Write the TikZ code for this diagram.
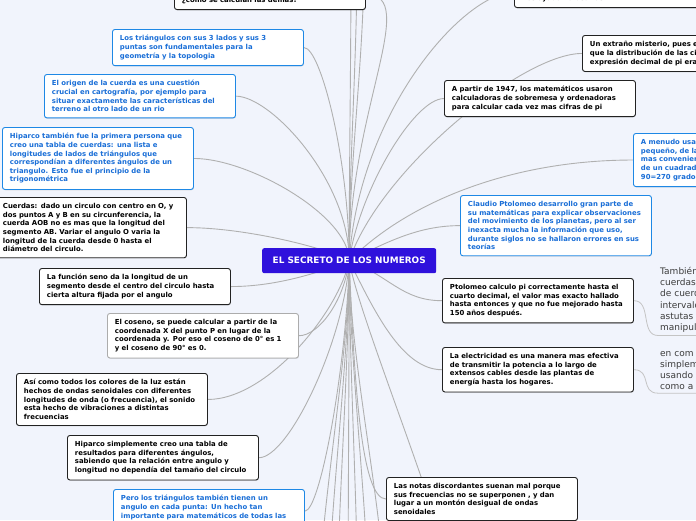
\documentclass[tikz,border=0pt]{standalone}
\usepackage{fontspec}
\setmainfont{DejaVu Sans}
\usepackage{tikz}
\usetikzlibrary{shadows}
\definecolor{bgcol}{RGB}{241,244,252}
\definecolor{hubcol}{RGB}{47,17,220}
\definecolor{blueline}{RGB}{30,136,229}
\definecolor{bluetext}{RGB}{25,110,215}
\definecolor{darkline}{RGB}{34,34,34}
\definecolor{greyline}{RGB}{172,172,172}
\definecolor{linkcol}{RGB}{176,176,176}
\definecolor{notecol}{RGB}{60,60,60}
\newcommand{\cardfont}{\fontsize{6.9}{8.6}\selectfont\bfseries}
\newcommand{\notefont}{\fontsize{9}{11.2}\selectfont}
\pgfdeclarelayer{back}
\pgfdeclarelayer{links}
\pgfsetlayers{back,links,main}

\begin{document}
\begin{tikzpicture}[x=1pt, y=-1pt,
  card/.style={draw=darkline, fill=white, text=black, line width=0.9pt,
    rounded corners=2.5pt, anchor=north west, text width=176pt, align=left,
    inner xsep=7.5pt, inner ysep=6pt, font=\cardfont,
    drop shadow={shadow xshift=0.4pt, shadow yshift=-0.8pt, opacity=0.25}},
  bluecard/.style={card, draw=blueline, text=bluetext},
  greycard/.style={card, draw=greyline},
  hubnode/.style={fill=hubcol, text=white, rounded corners=2pt, anchor=north west,
    minimum width=174pt, minimum height=25pt, inner sep=0pt,
    font=\fontsize{8.9}{10}\selectfont\bfseries},
  note/.style={anchor=north west, align=left, inner xsep=2pt, inner ysep=3pt,
    text=notecol, font=\notefont},
  link/.style={draw=linkcol, line width=0.9pt},
  uline/.style={draw=linkcol!75, line width=0.8pt}]
  \useasboundingbox (0,0) rectangle (696,520);
  \begin{pgfonlayer}{back}
    \fill[bgcol] (0,0) rectangle (696,520);
  \end{pgfonlayer}

  % Central topic
  \node[hubnode] (hub) at (262,248) {EL SECRETO DE LOS NUMEROS};

  % Left side
  \node[card, anchor=south west] (como) at (174,10) {\mbox{}\\ \mbox{}\\ ¿cómo se calculan las demás?};
  \node[bluecard] (tri) at (112,29) {Los triángulos con sus 3 lados y sus 3\\ puntas son fundamentales para la\\ geometría y la topologia};
  \node[bluecard] (orig) at (44,74) {El origen de la cuerda es una cuestión\\ crucial en cartografía, por ejemplo para\\ situar exactamente las características del\\ terreno al otro lado de un rio};
  \node[bluecard] (hipA) at (2,127) {Hiparco también fue la primera persona que\\ creo una tabla de cuerdas: una lista e\\ longitudes de lados de triángulos que\\ correspondían a diferentes ángulos de un\\ triangulo. Esto fue el principio de la\\ trigonométrica};
  \node[card] (cuer) at (-5,197) {Cuerdas: dado un circulo con centro en O, y\\ dos puntos A y B en su circunferencia, la\\ cuerda AOB no es mas que la longitud del\\ segmento AB. Variar el angulo O varia la\\ longitud de la cuerda desde 0 hasta el\\ diámetro del circulo.};
  \node[card] (seno) at (39,268) {La función seno da la longitud de un\\ segmento desde el centro del circulo hasta\\ cierta altura fijada por el angulo};
  \node[greycard] (cose) at (107,313) {El coseno, se puede calcular a partir de la\\ coordenada X del punto P en lugar de la\\ coordenada y. Por eso el coseno de 0° es 1\\ y el coseno de 90° es 0.};
  \node[card] (luz) at (16,373) {Así como todos los colores de la luz están\\ hechos de ondas senoidales con diferentes\\ longitudes de onda (o frecuencia), el sonido\\ esta hecho de vibraciones a distintas\\ frecuencias};
  \node[card] (hipB) at (67,435) {Hiparco simplemente creo una tabla de\\ resultados para diferentes ángulos,\\ sabiendo que la relación entre angulo y\\ longitud no dependía del tamaño del circulo};
  \node[bluecard] (pero) at (113,489) {Pero los triángulos también tienen un\\ angulo en cada punta: Un hecho tan\\ importante para matemáticos de todas las\\ \mbox{}};

  % Right side
  \node[card, anchor=south west] (ayuda) at (514,8) {\mbox{}\\ \mbox{}\\ nos ayudan a usarlas.};
  \node[card] (mist) at (582,35) {Un extraño misterio, pues e\\ que la distribución de las ci\\ expresión decimal de pi era};
  \node[card] (calc) at (444,80) {A partir de 1947, los matemáticos usaron\\ calculadoras de sobremesa y ordenadoras\\ para calcular cada vez mas cifras de pi};
  \node[bluecard] (menudo) at (633,133) {A menudo usa\\ pequeño, de la\\ mas convenien\\ de un cuadrad\\ 90=270 grado};
  \node[bluecard] (clau) at (460,195) {Claudio Ptolomeo desarrollo gran parte de\\ su matemáticas para explicar observaciones\\ del movimiento de los planetas, pero al ser\\ inexacta mucha la información que uso,\\ durante siglos no se hallaron errores en sus\\ teorías};
  \node[card] (ptol) at (442,278) {Ptolomeo calculo pi correctamente hasta el\\ cuarto decimal, el valor mas exacto hallado\\ hasta entonces y que no fue mejorado hasta\\ 150 años después.};
  \node[card] (elec) at (442,347) {La electricidad es una manera mas efectiva\\ de transmitir la potencia a lo largo de\\ extensos cables desde las plantas de\\ energía hasta los hogares.};
  \node[card] (notas) at (386,477) {Las notas discordantes suenan mal porque\\ sus frecuencias no se superponen , y dan\\ lugar a un montón desigual de ondas\\ senoidales};
  \node[note] (tamb) at (658,264) {También\\ cuerdas\\ de cuerd\\ intervalo\\ astutas\\ manipul};
  \node[note] (encom) at (658,348) {en com\\ simplem\\ usando\\ como a};

  % Branches leaving the page
  \foreach \ux [count=\i] in {351,357,364}
    \coordinate (up\i) at (\ux,-40);
  \foreach \dx [count=\i] in {318,328,337,348,358,369,386}
    \coordinate (down\i) at (\dx,620);
  \coordinate (far) at (462,620);

  \begin{pgfonlayer}{links}
    \foreach \i in {1,2,3}
      \draw[link] (hub.center) .. controls +(0,-100) and +(0,100) .. (up\i);
    \foreach \i in {1,...,7}
      \draw[link] (hub.center) .. controls +(0,100) and +(0,-100) .. (down\i);
    \draw[link] (hub.center) .. controls +(10,60) and +(-10,-80) .. (far);
    % left
    \draw[link] (hub.center) .. controls +(0,-150) and +(55,0) .. (como.east);
    \draw[link] (hub.center) .. controls +(0,-100) and +(17,0) .. (tri.east);
    \draw[link] (hub.center) .. controls +(0,-80) and +(35,0) .. (orig.east);
    \draw[link] (hub.center) .. controls +(0,-45) and +(55,0) .. (hipA.east);
    \draw[link] (hub.center) .. controls +(-20,-12) and +(60,0) .. (cuer.east);
    \draw[link] (hub.center) .. controls +(-30,12) and +(45,0) .. (seno.east);
    \draw[link] (hub.center) .. controls +(-5,40) and +(20,0) .. (cose.east);
    \draw[link] (hub.center) .. controls +(-10,50) and +(60,0) .. (luz.east);
    \draw[link] (hub.center) .. controls +(-5,80) and +(30,0) .. (hipB.east);
    \draw[link] (hub.center) .. controls +(-3,110) and +(15,0) .. (pero.east);
    % right
    \draw[link] (hub.center) .. controls +(10,-150) and +(-50,0) .. (ayuda.west);
    \draw[link] (hub.center) .. controls +(30,-90) and +(-60,0) .. (mist.west);
    \draw[link] (hub.center) .. controls +(10,-70) and +(-30,0) .. (calc.west);
    \draw[link] (hub.center) .. controls +(60,-60) and +(-120,0) .. (menudo.west);
    \draw[link] (hub.center) .. controls +(40,-20) and +(-40,0) .. (clau.west);
    \draw[link] (hub.center) .. controls +(40,15) and +(-40,0) .. (ptol.west);
    \draw[link] (hub.center) .. controls +(25,50) and +(-40,0) .. (elec.west);
    \draw[link] (hub.center) .. controls +(5,120) and +(-25,0) .. (notas.west);
    % underlined notes
    \draw[uline] (ptol.east) .. controls +(18,0) and +(-18,0) .. (tamb.south west) -- (tamb.south east);
    \draw[uline] (elec.east) .. controls +(18,0) and +(-18,0) .. (encom.south west) -- (encom.south east);
  \end{pgfonlayer}
\end{tikzpicture}
\end{document}
